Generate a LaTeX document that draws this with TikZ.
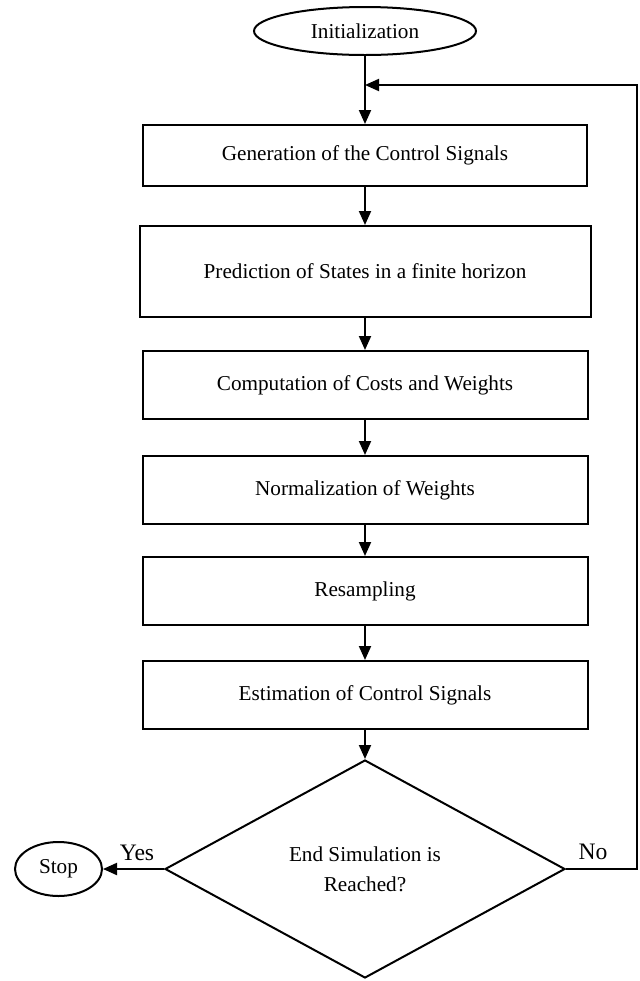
\documentclass[tikz,border=0pt]{standalone}
\usepackage{fontspec}
\setmainfont{Liberation Serif}
\usetikzlibrary{shapes.geometric, arrows.meta}

\begin{document}
\begin{tikzpicture}[x=0.5pt, y=-0.5pt, line width=1pt,
	font=\fontsize{10.6}{15}\selectfont,
	block/.style={draw, rectangle, inner sep=0pt, minimum width=222.5pt, minimum height=34pt},
	term/.style={draw, ellipse, inner sep=0pt},
	decision/.style={draw, diamond, inner sep=0pt, align=center},
	arr/.style={-{Triangle[length=7pt, width=6pt]}}]
	\useasboundingbox (0,0) rectangle (640,981);

	\node [term, minimum width=111pt, minimum height=24pt] (init) at (365,31) {Initialization};
	\node [block, minimum width=222pt, minimum height=30.5pt] (gen) at (365,155.5) {Generation of the Control Signals};
	\node [block, minimum width=225.5pt, minimum height=45.5pt] (pred) at (365,271.5) {Prediction of States in a finite horizon};
	\node [block] (cost) at (365,385) {Computation of Costs and Weights};
	\node [block] (norm) at (365,490) {Normalization of Weights};
	\node [block] (resamp) at (365,591) {Resampling};
	\node [block] (est) at (365,695) {Estimation of Control Signals};
	\node [decision, minimum width=200pt, minimum height=109pt] (endsim) at (365,869) {End Simulation is\\Reached?};
	\node [term, minimum width=43.5pt, minimum height=27pt] (stop) at (58.5,869) {Stop};

	\coordinate (merge) at (365,85);
	\coordinate (back) at (637,85);

	\draw (init) -- (merge);
	\draw [arr] (merge) -- (gen);
	\draw [arr] (gen) -- (pred);
	\draw [arr] (pred) -- (cost);
	\draw [arr] (cost) -- (norm);
	\draw [arr] (norm) -- (resamp);
	\draw [arr] (resamp) -- (est);
	\draw [arr] (est) -- (endsim);

	% yes: stop, no: back to the top
	\draw [arr] (endsim.west) -- (stop);
	\node [font=\fontsize{11.8}{14}\selectfont] (yes) at (137,853) {Yes};
	\draw [arr] (endsim.east) -| (back) -- (merge);
	\node [font=\fontsize{11.8}{14}\selectfont] (no) at (593,852) {No};
\end{tikzpicture}
\end{document}
